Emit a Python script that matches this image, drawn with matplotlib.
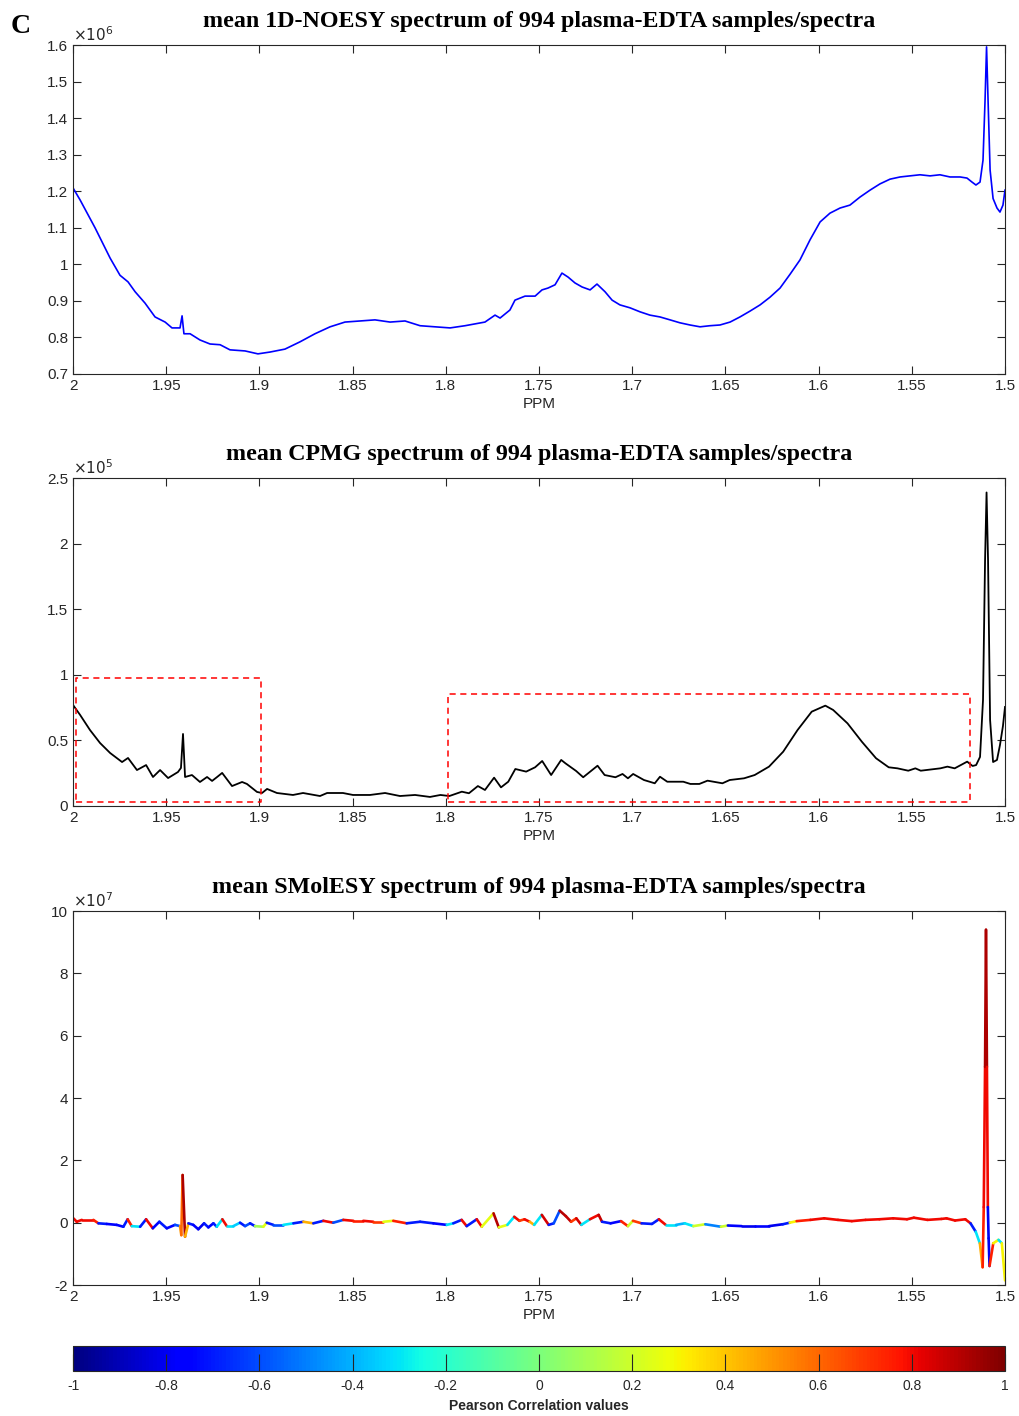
import numpy as np
import matplotlib
matplotlib.use('Agg')
import matplotlib.pyplot as plt
from matplotlib.collections import LineCollection
from matplotlib.ticker import FuncFormatter

plt.rcParams['font.family'] = ['Liberation Sans', 'DejaVu Sans']

# mean 1D-NOESY spectrum (x1e6)
noesy_ppm = [2.0, 1.9962, 1.9882, 1.9801, 1.9748, 1.9705, 1.9667, 1.9614, 1.956, 1.9506,
             1.9469, 1.9426, 1.9415, 1.9405, 1.9372, 1.9319, 1.9265, 1.9211, 1.9158, 1.9077,
             1.9008, 1.8943, 1.8863, 1.8782, 1.8702, 1.8621, 1.8541, 1.846, 1.838, 1.8299,
             1.8219, 1.8138, 1.8058, 1.7977, 1.7897, 1.779, 1.7736, 1.7709, 1.7656, 1.7629,
             1.7575, 1.7521, 1.7484, 1.7452, 1.7414, 1.7377, 1.7344, 1.7307, 1.7269, 1.7226,
             1.7189, 1.7146, 1.7108, 1.7066, 1.7012, 1.6958, 1.6905, 1.6851, 1.6797, 1.6744,
             1.669, 1.6636, 1.6583, 1.6529, 1.6475, 1.6422, 1.6368, 1.6314, 1.6261, 1.6207,
             1.6153, 1.61, 1.6046, 1.5992, 1.5939, 1.5885, 1.5832, 1.5778, 1.5724, 1.5671,
             1.5617, 1.5563, 1.551, 1.5456, 1.5402, 1.5349, 1.5295, 1.5241, 1.5204, 1.5177,
             1.5156, 1.5134, 1.5118, 1.5107, 1.5099, 1.5091, 1.508, 1.5064, 1.5043, 1.5027,
             1.5011, 1.5]
noesy_val = [1.209, 1.176, 1.10, 1.017, 0.97, 0.952, 0.925, 0.894, 0.856, 0.842,
             0.826, 0.826, 0.859, 0.81, 0.81, 0.793, 0.782, 0.78, 0.766, 0.763,
             0.755, 0.76, 0.768, 0.788, 0.81, 0.829, 0.842, 0.845, 0.848, 0.842,
             0.845, 0.832, 0.829, 0.826, 0.832, 0.842, 0.861, 0.853, 0.875, 0.902,
             0.913, 0.913, 0.93, 0.935, 0.944, 0.976, 0.965, 0.949, 0.938, 0.93,
             0.946, 0.925, 0.902, 0.889, 0.881, 0.87, 0.861, 0.856, 0.848, 0.84,
             0.834, 0.829, 0.832, 0.834, 0.842, 0.856, 0.872, 0.889, 0.91, 0.935,
             0.973, 1.012, 1.067, 1.116, 1.14, 1.154, 1.162, 1.184, 1.203, 1.22,
             1.233, 1.239, 1.242, 1.245, 1.242, 1.245, 1.239, 1.239, 1.236, 1.225,
             1.217, 1.225, 1.285, 1.45, 1.595, 1.45, 1.258, 1.18, 1.154, 1.143,
             1.162, 1.203]

# mean CPMG spectrum (x1e5)
cpmg_ppm = [2.0, 1.9962, 1.9909, 1.9855, 1.9801, 1.9737, 1.9705, 1.9657, 1.9608, 1.9571,
            1.9533, 1.949, 1.9437, 1.9421, 1.941, 1.9399, 1.9362, 1.9319, 1.9281, 1.9254,
            1.9227, 1.92, 1.9147, 1.9093, 1.9067, 1.9013, 1.8986, 1.8959, 1.8906, 1.882,
            1.8766, 1.8675, 1.8637, 1.8552, 1.8498, 1.8407, 1.8326, 1.8246, 1.8165, 1.8085,
            1.8029, 1.7981, 1.7914, 1.7876, 1.7828, 1.779, 1.7741, 1.7704, 1.7665, 1.7627,
            1.7569, 1.7521, 1.7483, 1.7435, 1.7381, 1.7358, 1.7301, 1.7263, 1.7186, 1.7148,
            1.709, 1.7052, 1.7023, 1.6995, 1.6937, 1.6879, 1.6851, 1.6812, 1.6726, 1.6688,
            1.664, 1.6596, 1.6516, 1.6477, 1.64, 1.6343, 1.6266, 1.619, 1.6113, 1.6037,
            1.5964, 1.5922, 1.5845, 1.5768, 1.5692, 1.5624, 1.5577, 1.5519, 1.5481, 1.5452,
            1.5347, 1.5309, 1.527, 1.5203, 1.5174, 1.5155, 1.5134, 1.5118, 1.5107, 1.5099,
            1.5091, 1.508, 1.5064, 1.5043, 1.5027, 1.5011, 1.5]
cpmg_val = [0.77, 0.694, 0.579, 0.48, 0.404, 0.335, 0.366, 0.274, 0.312, 0.221,
            0.274, 0.213, 0.259, 0.29, 0.549, 0.221, 0.236, 0.183, 0.221, 0.191,
            0.221, 0.252, 0.152, 0.183, 0.168, 0.107, 0.099, 0.13, 0.099, 0.084,
            0.099, 0.076, 0.099, 0.099, 0.084, 0.084, 0.099, 0.076, 0.084, 0.069,
            0.084, 0.076, 0.109, 0.097, 0.152, 0.122, 0.216, 0.142, 0.185, 0.282,
            0.262, 0.295, 0.343, 0.236, 0.351, 0.325, 0.267, 0.219, 0.307, 0.236,
            0.219, 0.244, 0.211, 0.244, 0.198, 0.173, 0.223, 0.185, 0.185, 0.168,
            0.168, 0.193, 0.173, 0.198, 0.211, 0.236, 0.3, 0.414, 0.579, 0.719,
            0.765, 0.732, 0.63, 0.49, 0.364, 0.295, 0.287, 0.269, 0.287, 0.269,
            0.287, 0.3, 0.287, 0.338, 0.305, 0.312, 0.374, 0.808, 1.875, 2.39,
            1.875, 0.656, 0.335, 0.351, 0.465, 0.61, 0.755]

# mean SMolESY spectrum (x1e7) and Pearson correlation per point
smol_ppm = [1.9998, 1.998, 1.9953, 1.9891, 1.9864, 1.9819, 1.9766, 1.973, 1.9707, 1.9685,
            1.964, 1.9608, 1.9572, 1.9537, 1.9497, 1.9453, 1.9426, 1.9419, 1.9412, 1.9399,
            1.9381, 1.9355, 1.9328, 1.9297, 1.9274, 1.9247, 1.9229, 1.9199, 1.9175, 1.914,
            1.9104, 1.9077, 1.905, 1.9024, 1.8979, 1.8961, 1.8925, 1.8872, 1.8818, 1.8764,
            1.8711, 1.8657, 1.8604, 1.855, 1.8496, 1.8443, 1.8389, 1.8335, 1.8282, 1.821,
            1.8138, 1.8067, 1.7995, 1.796, 1.7915, 1.7888, 1.7834, 1.7807, 1.7744, 1.7716,
            1.767, 1.7633, 1.7605, 1.7578, 1.755, 1.7526, 1.7485, 1.7448, 1.7421, 1.7389,
            1.7356, 1.7328, 1.73, 1.7273, 1.7227, 1.718, 1.7162, 1.7116, 1.706, 1.7023,
            1.6996, 1.695, 1.6894, 1.6857, 1.682, 1.6765, 1.6718, 1.6672, 1.6608, 1.6524,
            1.6487, 1.6413, 1.634, 1.6266, 1.6192, 1.6155, 1.6118, 1.6044, 1.597, 1.5896,
            1.5822, 1.5748, 1.5674, 1.56, 1.5526, 1.5489, 1.5416, 1.5342, 1.5314, 1.5268,
            1.5213, 1.5185, 1.5157, 1.5135, 1.512, 1.5114, 1.5107, 1.5102, 1.5097, 1.5092,
            1.5088, 1.5083, 1.5063, 1.5035, 1.5017, 1.5]
smol_val = [0.14, 0.03, 0.09, 0.09, -0.02, -0.04, -0.07, -0.13, 0.11, -0.11,
            -0.13, 0.11, -0.18, 0.03, -0.18, -0.07, -0.11, -0.4, 1.53, -0.45,
            -0.02, -0.07, -0.21, -0.02, -0.15, -0.02, -0.13, 0.11, -0.11, -0.11,
            0.0, -0.11, -0.02, -0.11, -0.13, 0.0, -0.07, -0.07, -0.02, 0.03,
            -0.02, 0.06, 0.0, 0.09, 0.06, 0.06, 0.03, 0.03, 0.06, -0.02,
            0.03, -0.02, -0.07, -0.02, 0.09, -0.11, 0.11, -0.13, 0.30, -0.15,
            -0.07, 0.19, 0.06, 0.11, 0.03, -0.07, 0.25, -0.07, -0.02, 0.385,
            0.21, 0.03, 0.14, -0.07, 0.11, 0.25, 0.03, -0.02, 0.05, -0.11,
            0.06, -0.02, -0.04, 0.11, -0.07, -0.07, -0.02, -0.11, -0.05, -0.13,
            -0.09, -0.11, -0.11, -0.11, -0.05, 0.0, 0.05, 0.09, 0.14, 0.09,
            0.05, 0.09, 0.11, 0.14, 0.11, 0.16, 0.09, 0.12, 0.14, 0.07,
            0.11, -0.02, -0.29, -0.66, -1.43, 0.5, 5.0, 9.4, 5.0, 0.5,
            -0.5, -1.39, -0.66, -0.55, -0.66, -1.85]
smol_corr = [0.8, 0.8, 0.8, 0.75, -0.7, -0.75, -0.75, -0.7, 0.75, -0.3,
             -0.7, 0.8, -0.75, -0.7, -0.75, -0.6, 0.5, 0.6, 0.92, 0.45,
             -0.7, -0.75, -0.8, -0.7, -0.75, -0.7, -0.3, 0.8, -0.3, -0.35,
             -0.7, -0.6, -0.7, 0.1, 0.25, -0.7, -0.6, -0.3, -0.7, 0.45,
             -0.7, 0.8, -0.6, 0.8, 0.75, 0.8, 0.7, 0.25, 0.75, -0.7,
             -0.7, -0.75, -0.3, -0.7, 0.8, -0.7, 0.8, 0.25, 0.9, 0.25,
             -0.3, 0.8, 0.7, 0.8, 0.45, -0.3, 0.85, -0.7, -0.6, 0.9,
             0.88, 0.7, 0.85, -0.3, 0.8, 0.88, -0.7, -0.75, 0.75, 0.2,
             0.7, -0.7, -0.7, 0.8, -0.3, -0.4, -0.3, 0.2, -0.5, 0.2,
             -0.75, -0.8, -0.75, -0.8, -0.7, 0.3, 0.75, 0.8, 0.8, 0.8,
             0.8, 0.8, 0.8, 0.8, 0.8, 0.8, 0.8, 0.8, 0.8, 0.8,
             0.8, -0.7, -0.3, 0.45, 0.75, 0.8, 0.92, 0.92, 0.8, -0.8,
             -0.8, 0.75, 0.3, -0.3, 0.3, 0.5]

# highlighted regions on the CPMG panel (ppm_left, ppm_right, low, high) x1e5
box_regions = [(1.9984, 1.899, 0.03, 0.976), (1.799, 1.519, 0.03, 0.854)]

xticks = [2, 1.95, 1.9, 1.85, 1.8, 1.75, 1.7, 1.65, 1.6, 1.55, 1.5]
cbar_ticks = [-1, -0.8, -0.6, -0.4, -0.2, 0, 0.2, 0.4, 0.6, 0.8, 1]

title_kw = dict(family='Liberation Serif', fontweight='bold', fontsize=17.3)
axcol = '0.15'

fig = plt.figure(figsize=(10.2, 14.16), dpi=100)
ax1 = fig.add_axes([0.0716, 0.7359, 0.9137, 0.2323])
ax2 = fig.add_axes([0.0716, 0.4308, 0.9137, 0.2316])
ax3 = fig.add_axes([0.0716, 0.0925, 0.9137, 0.2641])
cax = fig.add_axes([0.0716, 0.0318, 0.9137, 0.0177])

gfmt = FuncFormatter(lambda v, p: '%g' % round(v, 4))


def style(ax, ylim, yticks, exp, title):
    ax.set_xlim(2, 1.5)
    ax.set_ylim(*ylim)
    ax.set_xticks(xticks)
    ax.set_yticks(yticks)
    ax.xaxis.set_major_formatter(gfmt)
    ax.yaxis.set_major_formatter(gfmt)
    ax.tick_params(direction='in', length=6, top=True, right=True, labelsize=11,
                   color=axcol, labelcolor=axcol, width=0.8)
    for s in ax.spines.values():
        s.set_color(axcol)
        s.set_linewidth(0.8)
    ax.set_xlabel('PPM', fontsize=11, color=axcol, labelpad=3)
    ax.set_title(title, pad=13, **title_kw)
    ax.text(0.0, 1.003, r'$\times10^{%d}$' % exp, transform=ax.transAxes,
            ha='left', va='bottom', fontsize=11, color=axcol)


ax1.plot(noesy_ppm, noesy_val, color='#0000ff', lw=1.2)
style(ax1, (0.7, 1.6), [0.7, 0.8, 0.9, 1.0, 1.1, 1.2, 1.3, 1.4, 1.5, 1.6], 6,
      'mean 1D-NOESY spectrum of 994 plasma-EDTA samples/spectra')

ax2.plot(cpmg_ppm, cpmg_val, color='black', lw=1.3)
for x0, x1, y0, y1 in box_regions:
    ax2.plot([x0, x1, x1, x0, x0], [y0, y0, y1, y1, y0], color='red',
             ls=(0, (4, 3)), lw=1.1)
style(ax2, (0, 2.5), [0, 0.5, 1, 1.5, 2, 2.5], 5,
      'mean CPMG spectrum of 994 plasma-EDTA samples/spectra')

# each segment takes the colour of the point it starts from
pts = np.column_stack([smol_ppm, smol_val])
segs = np.stack([pts[:-1], pts[1:]], axis=1)
corr = np.array(smol_corr)
lc = LineCollection(segs, cmap='jet', norm=plt.Normalize(-1, 1), linewidths=1.9,
                    capstyle='round', joinstyle='round')
lc.set_array(corr[:-1])
ax3.add_collection(lc)
style(ax3, (-2, 10), [-2, 0, 2, 4, 6, 8, 10], 7,
      'mean SMolESY spectrum of 994 plasma-EDTA samples/spectra')

cb = fig.colorbar(lc, cax=cax, orientation='horizontal')
cb.set_ticks(cbar_ticks)
cb.ax.xaxis.set_major_formatter(gfmt)
cb.ax.tick_params(direction='in', length=12, labelsize=10, color=axcol,
                  labelcolor=axcol, width=0.8, pad=6)
cb.outline.set_edgecolor(axcol)
cb.set_label('Pearson Correlation values', fontsize=10, fontweight='bold', color=axcol)

fig.text(0.02, 0.981, 'C', family='Liberation Serif', fontweight='bold', fontsize=20,
         ha='center', va='center')

fig.savefig('out.png', dpi=100)
